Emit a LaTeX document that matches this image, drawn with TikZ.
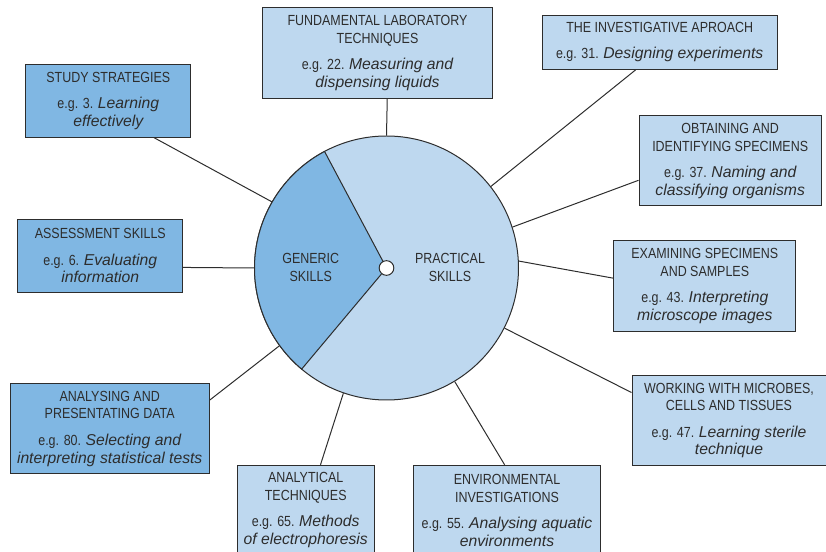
\documentclass[tikz,border=0pt]{standalone}
\usepackage{fontspec}
\setmainfont{Liberation Sans}
\newfontfamily\condfont{Liberation Sans}[FakeStretch=0.85]
\newcommand{\egit}[1]{{\rmfamily\itshape\fontsize{11.8}{13.3}\selectfont #1}}

\definecolor{genericblue}{RGB}{128,183,227}
\definecolor{practicalblue}{RGB}{190,216,239}
\definecolor{inkgrey}{RGB}{45,45,45}

\tikzset{every picture/.style={line width=0.75pt}}
\tikzset{
	skilltext/.style={text=inkgrey, align=center, inner sep=0pt, font=\condfont\fontsize{11}{13.3}\selectfont},
	skillbox/.style={skilltext, draw=inkgrey},
	genericbox/.style={skillbox, fill=genericblue},
	practicalbox/.style={skillbox, fill=practicalblue},
	spoke/.style={draw=inkgrey}
}

\begin{document}
\begin{tikzpicture}[x=0.75pt,y=0.75pt,yscale=-1,xscale=1]
			\useasboundingbox (0,0) rectangle (826,552);

			%Shape: Circle
			\draw (386.5,268) node [circle, draw=inkgrey, fill=practicalblue, minimum size=198pt, inner sep=0pt] (skills) {};
			%Shape: Sector
			\draw [draw=inkgrey, fill=genericblue] (skills.center) -- ++(-118:132) arc [start angle=-118, end angle=-230, radius=132] -- cycle ;
			%Shape: Circle
			\draw (skills.center) node [circle, draw=inkgrey, fill=white, minimum size=11pt, inner sep=0pt] (hub) {};

			% Text Node
			\draw (310.7,267.5) node [skilltext] (generic) {GENERIC\\SKILLS};
			% Text Node
			\draw (450,267.5) node [skilltext] (practical) {PRACTICAL\\SKILLS};

			% Text Node
			\draw (108.3,100.7) node [genericbox, minimum width=123.5pt, minimum height=54.5pt] (study) {STUDY STRATEGIES\\[6.5pt]
				e.g. 3. \egit{Learning}\\
				\egit{effectively}};
			% Text Node
			\draw (100.3,255.8) node [genericbox, minimum width=123.5pt, minimum height=54.75pt] (assess) {ASSESSMENT SKILLS\\[6.5pt]
				e.g. 6. \egit{Evaluating}\\
				\egit{information}};
			% Text Node
			\draw (109.7,428.7) node [genericbox, minimum width=149.5pt, minimum height=67.5pt] (data) {ANALYSING AND\\
				PRESENTATING DATA\\[6.5pt]
				e.g. 80. \egit{Selecting and}\\
				\egit{interpreting statistical tests}};
			% Text Node
			\draw (377.5,53.3) node [practicalbox, minimum width=172.8pt, minimum height=68pt] (fund) {FUNDAMENTAL LABORATORY\\
				TECHNIQUES\\[6.5pt]
				e.g. 22. \egit{Measuring and}\\
				\egit{dispensing liquids}};
			% Text Node
			\draw (659.7,42.2) node [practicalbox, minimum width=176pt, minimum height=40.7pt] (invest) {THE INVESTIGATIVE APROACH\\[6.5pt]
				e.g. 31. \egit{Designing experiments}};
			% Text Node
			\draw (730.2,160.8) node [practicalbox, minimum width=136.7pt, minimum height=67.7pt] (obtain) {OBTAINING AND\\
				IDENTIFYING SPECIMENS\\[6.5pt]
				e.g. 37. \egit{Naming and}\\
				\egit{classifying organisms}};
			% Text Node
			\draw (704.8,286.2) node [practicalbox, minimum width=136.3pt, minimum height=68.25pt] (examine) {EXAMINING SPECIMENS\\
				AND SAMPLES\\[6.5pt]
				e.g. 43. \egit{Interpreting}\\
				\egit{microscope images}};
			% Text Node
			\draw (729,420.5) node [practicalbox, minimum width=145.5pt, minimum height=67.8pt] (microbes) {WORKING WITH MICROBES,\\
				CELLS AND TISSUES\\[6.5pt]
				e.g. 47. \egit{Learning sterile}\\
				\egit{technique}};
			% Text Node
			\draw (507,510.3) node [practicalbox, minimum width=140.5pt, minimum height=67.5pt] (environ) {ENVIRONMENTAL\\
				INVESTIGATIONS\\[6.5pt]
				e.g. 55. \egit{Analysing aquatic}\\
				\egit{environments}};
			% Text Node
			\draw (305.7,510.3) node [practicalbox, minimum width=102.5pt, minimum height=67.5pt] (analyt) {ANALYTICAL\\
				TECHNIQUES\\[6.5pt]
				e.g. 65. \egit{Methods}\\
				\egit{of electrophoresis}};

			%Straight Lines
			\draw [spoke] (skills.150.6) -- (study.-39) ;
			%Straight Lines
			\draw [spoke] (skills.180) -- (assess.-8.2) ;
			%Straight Lines
			\draw [spoke] (skills.216.5) -- (data.16.6) ;
			%Straight Lines
			\draw [spoke] (skills.90) -- (fund.-78.5) ;
			%Straight Lines
			\draw [spoke] (skills.38.8) -- (invest.-131.2) ;
			%Straight Lines
			\draw [spoke] (skills.18.9) -- (obtain.192.9) ;
			%Straight Lines
			\draw [spoke] (skills.3.2) -- (examine.175) ;
			%Straight Lines
			\draw [spoke] (skills.-27.4) -- (microbes.164.3) ;
			%Straight Lines
			\draw [spoke] (skills.-59) -- (environ.93.4) ;
			%Straight Lines
			\draw [spoke] (skills.251.5) -- (analyt.72.4) ;

\end{tikzpicture}
\end{document}
